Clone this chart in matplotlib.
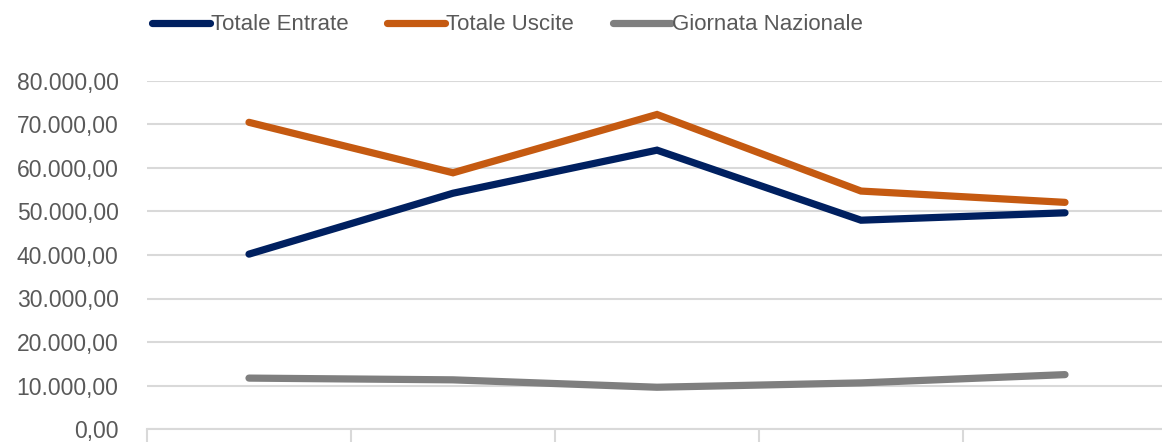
import numpy as np
import matplotlib
matplotlib.use('Agg')
from matplotlib import pyplot as plt
from matplotlib.ticker import FuncFormatter, FixedLocator

plt.rcParams['font.family'] = ['Liberation Sans', 'DejaVu Sans']

# dati
categorie = [1, 2, 3, 4, 5]
totale_entrate = [40200, 54200, 64100, 48000, 49700]
totale_uscite = [70500, 58900, 72300, 54700, 52100]
giornata_nazionale = [11700, 11300, 9600, 10600, 12500]
nomi_serie = ['Totale Entrate', 'Totale Uscite', 'Giornata Nazionale']
colori = ['#002060', '#c55a11', '#7f7f7f']


def formato_it(v, pos):
    s = '{:,.2f}'.format(v)
    return s.replace(',', 'X').replace('.', ',').replace('X', '.')


fig = plt.figure(figsize=(11.62, 4.42), dpi=100)
ax = fig.add_axes([147 / 1162, 1 - 429 / 442, 1020 / 1162, 348 / 442])

x = np.array(categorie)
for serie, nome, col in zip([totale_entrate, totale_uscite, giornata_nazionale], nomi_serie, colori):
    ax.plot(x, serie, color=col, lw=5.2, solid_capstyle='round', solid_joinstyle='miter',
            label=nome, zorder=3)

ax.set_xlim(0.5, 5.5)
ax.set_ylim(0, 80000)
ax.set_yticks(np.arange(0, 80001, 10000))
ax.yaxis.set_major_formatter(FuncFormatter(formato_it))
ax.grid(axis='y', color='#d9d9d9', lw=1.5, zorder=0)

# tacche asse x ai bordi delle categorie
ax.xaxis.set_major_locator(FixedLocator(np.arange(0.5, 5.6, 1)))
ax.set_xticklabels([])
ax.tick_params(axis='x', length=10, width=1.5, color='#d9d9d9', direction='out')
ax.tick_params(axis='y', length=0, pad=20.5, labelsize=16.5, labelcolor='#595959')

for s in ['top', 'right', 'left']:
    ax.spines[s].set_visible(False)
ax.spines['bottom'].set_color('#d9d9d9')
ax.spines['bottom'].set_linewidth(1.5)

fig.legend(loc='center left', bbox_to_anchor=(152 / 1162, 1 - 25 / 442), ncol=3,
           frameon=False, borderpad=0, borderaxespad=0, handlelength=2.6,
           handletextpad=0.05, columnspacing=1.75, fontsize=16, labelcolor='#595959')

plt.savefig('out.png', dpi=100)
